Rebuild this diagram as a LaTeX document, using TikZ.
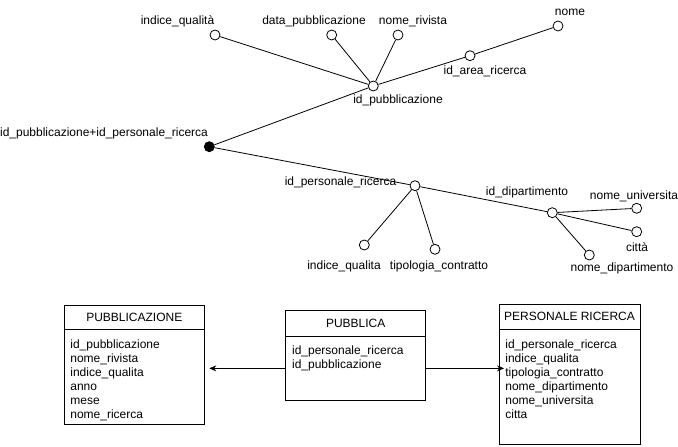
\documentclass[tikz,border=0pt]{standalone}
\usepackage{fontspec}
\setmainfont{Liberation Sans}
\usetikzlibrary{positioning,arrows.meta}

\tikzset{
  attr/.style={circle,draw,fill=white,minimum size=10pt,inner sep=0pt},
  keyattr/.style={circle,draw,fill=black,minimum size=10pt,inner sep=0pt},
  lbl/.style={inner sep=0pt,text height=8.6pt,text depth=2.4pt,font=\fontsize{12}{14}\selectfont},
  hdr/.style={draw,minimum width=140pt,inner sep=0pt,outer sep=0pt,font=\fontsize{12}{14}\selectfont},
  bodybox/.style={draw,minimum width=140pt,inner sep=0pt,outer sep=0pt},
  rows/.style={align=left,anchor=north west,inner sep=0pt,font=\fontsize{12}{14}\selectfont},
  link/.style={-{Stealth[length=7pt,width=6pt]}}
}

\begin{document}
\begin{tikzpicture}[x=1pt,y=-1pt,line width=0.8pt]
    \useasboundingbox (0,0) rectangle (678,447);
    % Attribute tree
    \node[keyattr] (root) at (209.3,146.7) {};
    \node[attr] (idpub) at (373.3,86) {};
    \node[attr] (idarea) at (470,55.7) {};
    \node[attr] (nome) at (558,26) {};
    \node[attr] (qual) at (215,35) {};
    \node[attr] (data) at (331.7,35) {};
    \node[attr] (riv) at (398,35) {};
    \node[attr] (idpers) at (415,185.7) {};
    \node[attr] (qual2) at (364.3,245) {};
    \node[attr] (tipo) at (435,249.3) {};
    \node[attr] (iddip) at (552.3,212.7) {};
    \node[attr] (uni) at (636.7,208.3) {};
    \node[attr] (citta) at (636.7,231.7) {};
    \node[attr] (nomedip) at (589.3,255) {};
    \draw (root) -- (idpub) -- (idarea) -- (nome);
    \draw (idpub) -- (qual);
    \draw (idpub) -- (data);
    \draw (idpub) -- (riv);
    \draw (root) -- (idpers) -- (iddip);
    \draw (idpers) -- (qual2);
    \draw (idpers) -- (tipo);
    \draw (iddip) -- (uni);
    \draw (iddip) -- (citta);
    \draw (iddip) -- (nomedip);
    % Labels
    \node[lbl] (lqual) at (177.5,21) {indice\_qualità};
    \node[lbl] (ldata) at (314,21.7) {data\_pubblicazione};
    \node[lbl] (lriv) at (413,21.7) {nome\_rivista};
    \node[lbl] (lnome) at (570,12) {nome};
    \node[lbl] (larea) at (485,71) {id\_area\_ricerca};
    \node[lbl] (lidpub) at (398,100) {id\_pubblicazione};
    \node[lbl] (lroot) at (104,133) {id\_pubblicazione+id\_personale\_ricerca};
    \node[lbl] (lidpers) at (340.5,182.7) {id\_personale\_ricerca};
    \node[lbl] (lqual2) at (344,266.7) {indice\_qualita};
    \node[lbl] (ltipo) at (439,266.7) {tipologia\_contratto};
    \node[lbl] (ldip) at (527,192.7) {id\_dipartimento};
    \node[lbl] (luni) at (634,196.7) {nome\_universita};
    \node[lbl] (lcitta) at (637,248) {città};
    \node[lbl] (lnomedip) at (622,268) {nome\_dipartimento};
    % Tables
    \node[hdr,minimum height=24.3pt] (pubT) at (134.3,317.15) {PUBBLICAZIONE};
    \node[bodybox,minimum height=94.7pt,below=0pt of pubT] (pubB) {};
    \node[rows] (pubA) at (70,339.7) {id\_pubblicazione\\nome\_rivista\\indice\_qualita\\anno\\mese\\nome\_ricerca};
    \node[hdr,minimum height=26pt] (pbcT) at (355.7,323.7) {PUBBLICA};
    \node[bodybox,minimum height=63.3pt,below=0pt of pbcT] (pbcB) {};
    \node[rows] (pbcA) at (291.7,345.4) {id\_personale\_ricerca\\id\_pubblicazione};
    \node[hdr,minimum width=141pt,minimum height=25pt] (perT) at (569.5,316.8) {PERSONALE RICERCA};
    \node[bodybox,minimum width=141pt,minimum height=114.7pt,below=0pt of perT] (perB) {};
    \node[rows] (perA) at (505,339.4) {id\_personale\_ricerca\\indice\_qualita\\tipologia\_contratto\\nome\_dipartimento\\nome\_universita\\citta};
    % Links
    \draw[link,shorten >=5pt] (pbcB.west) -- (pubB.east |- pbcB.west);
    \draw[link,shorten >=-5pt] (pbcB.east) -- (perB.west |- pbcB.east);
\end{tikzpicture}
\end{document}
